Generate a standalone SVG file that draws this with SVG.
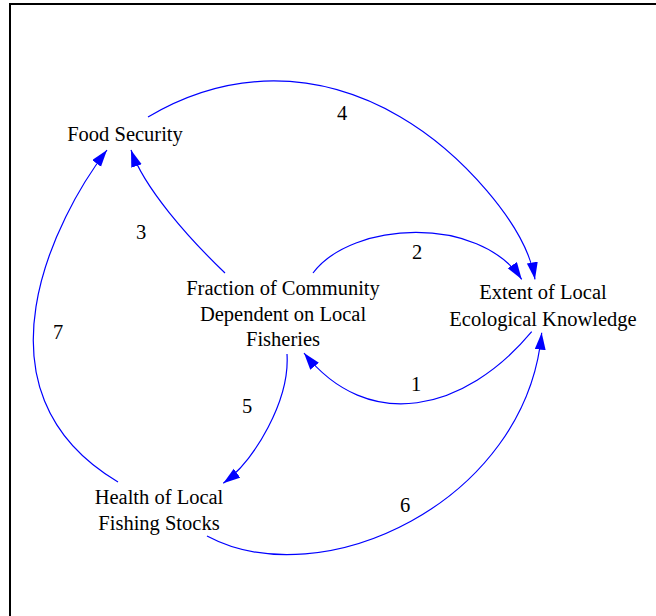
<svg xmlns="http://www.w3.org/2000/svg" width="656" height="616" viewBox="0 0 656 616">
<style>
.t{font-family:"Liberation Serif","Times New Roman",serif;font-size:20.5px;fill:#000;text-anchor:middle}
.e{fill:none;stroke:#0000FF;stroke-width:1.2}
</style>
<defs>
<marker id="ah" markerUnits="userSpaceOnUse" markerWidth="18" markerHeight="12" refX="17" refY="5.5" orient="auto">
<path d="M0,0 L17,5.5 L0,11 Z" fill="#0000FF"/>
</marker>
</defs>
<rect x="0" y="0" width="656" height="616" fill="#fff"/>
<rect x="10" y="4" width="700" height="700" fill="none" stroke="#000" stroke-width="2"/>
<g id="connectors">
<path id="e1" class="e" d="M531.7,331.7 C465,411.8 368.5,434 304,353" marker-end="url(#ah)"/>
<path id="e2" class="e" d="M313,273 C352,221 478.8,214.6 521.7,279.3" marker-end="url(#ah)"/>
<path id="e3" class="e" d="M225,273 C189,238.5 144,188 131,150" marker-end="url(#ah)"/>
<path id="e4" class="e" d="M148,117 C229,69 318,69 400,116.7 C460.2,151.7 526.2,224.5 535,279.3" marker-end="url(#ah)"/>
<path id="e5" class="e" d="M287,354 C290,400 255,460 223.3,483.3" marker-end="url(#ah)"/>
<path id="e6" class="e" d="M207,536 C321,597 526.4,502.7 541.7,332.7" marker-end="url(#ah)"/>
<path id="e7" class="e" d="M118,482 C-35,391 56,216 107,150" marker-end="url(#ah)"/>
<text class="t" x="416" y="391">1</text>
<text class="t" x="417" y="259">2</text>
<text class="t" x="141" y="239">3</text>
<text class="t" x="342" y="120">4</text>
<text class="t" x="247" y="413">5</text>
<text class="t" x="405" y="512">6</text>
<text class="t" x="58" y="339">7</text>
</g>
<g id="food-security">
<text class="t" x="125" y="141">Food Security</text>
</g>
<g id="fraction-dependent">
<text class="t" x="283" y="295">Fraction of Community</text>
<text class="t" x="283" y="321">Dependent on Local</text>
<text class="t" x="283" y="346">Fisheries</text>
</g>
<g id="extent-knowledge">
<text class="t" x="543" y="299">Extent of Local</text>
<text class="t" x="543" y="326">Ecological Knowledge</text>
</g>
<g id="health-stocks">
<text class="t" x="159" y="504">Health of Local</text>
<text class="t" x="159" y="530">Fishing Stocks</text>
</g>
</svg>
